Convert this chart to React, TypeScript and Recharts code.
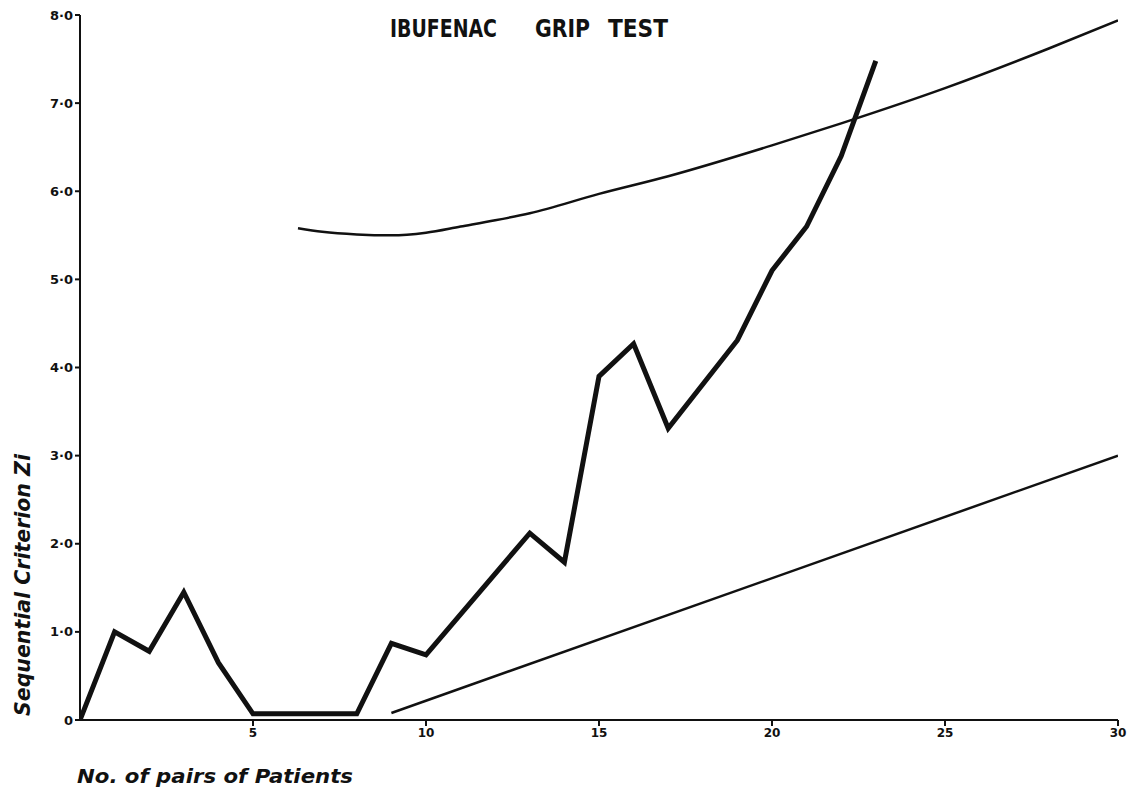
import React from 'react';
import { LineChart, Line, XAxis, YAxis } from 'recharts';

// observed sequential criterion Zi against number of pairs
const pairs = [0, 1, 2, 3, 4, 5, 8, 9, 10, 13, 14, 15, 16, 17, 19, 20, 21, 22, 23];
const zi = [0, 1.0, 0.78, 1.45, 0.65, 0.07, 0.07, 0.87, 0.74, 2.12, 1.79, 3.9, 4.27, 3.31, 4.31, 5.1, 5.6, 6.4, 7.48];

// upper boundary (curved)
const upperPairs = [6.3, 7, 8, 9, 10, 11, 12, 13, 15, 17, 20, 22, 25, 28, 30];
const upperZ = [5.58, 5.54, 5.51, 5.5, 5.53, 5.6, 5.67, 5.75, 5.97, 6.17, 6.52, 6.77, 7.17, 7.62, 7.94];

// lower boundary (straight)
const lowerPairs = [9, 30];
const lowerZ = [0.08, 3.0];

const xTicks = [5, 10, 15, 20, 25, 30];
const yTicks = [0, 1, 2, 3, 4, 5, 6, 7, 8];

const toRows = (xs: number[], ys: number[]) => xs.map((x, i) => ({ x, z: ys[i] }));

const fmtY = (v: number) => (v === 0 ? '0' : v.toFixed(1).replace('.', '·'));

const INK = '#111';
const FONT = '"DejaVu Sans", sans-serif';

export default function App() {
  const main = toRows(pairs, zi);
  const upper = toRows(upperPairs, upperZ);
  const lower = toRows(lowerPairs, lowerZ);

  return (
    <div style={{ position: 'absolute', left: 0, top: 0, width: 1137, height: 788, background: '#fff' }}>
      <LineChart width={1137} height={788} margin={{ top: 15, right: 19, bottom: 0, left: 0 }}>
        <XAxis
          dataKey="x"
          type="number"
          domain={[0, 30]}
          ticks={xTicks}
          height={68}
          stroke={INK}
          strokeWidth={2}
          tickSize={6}
          tick={{ fill: INK, fontSize: 12, fontWeight: 700, fontFamily: FONT }}
          allowDataOverflow
        />
        <YAxis
          type="number"
          domain={[0, 8]}
          ticks={yTicks}
          width={80}
          stroke={INK}
          strokeWidth={2}
          tickSize={5}
          tickFormatter={fmtY}
          tick={{ fill: INK, fontSize: 13, fontWeight: 700, fontFamily: FONT }}
          allowDataOverflow
        />
        <Line data={upper} dataKey="z" type="monotone" stroke={INK} strokeWidth={2.5} dot={false} isAnimationActive={false} />
        <Line data={lower} dataKey="z" type="linear" stroke={INK} strokeWidth={2.5} dot={false} isAnimationActive={false} />
        <Line data={main} dataKey="z" type="linear" stroke={INK} strokeWidth={5} dot={false} isAnimationActive={false} />
      </LineChart>
      <svg width={1137} height={788} style={{ position: 'absolute', left: 0, top: 0, pointerEvents: 'none' }}>
        <g fontFamily={FONT} fontWeight={700} fill={INK}>
          <text x={390} y={37} fontSize={25} textLength={107} lengthAdjust="spacingAndGlyphs">IBUFENAC</text>
          <text x={535} y={37} fontSize={25} textLength={55} lengthAdjust="spacingAndGlyphs">GRIP</text>
          <text x={608} y={37} fontSize={25} textLength={60} lengthAdjust="spacingAndGlyphs">TEST</text>
          <text
            x={77}
            y={783}
            fontSize={20}
            fontStyle="italic"
            textLength={276}
            lengthAdjust="spacingAndGlyphs"
          >
            No. of pairs of Patients
          </text>
          <text
            transform="translate(30,716) rotate(-90)"
            fontSize={21}
            fontStyle="italic"
            textLength={262}
            lengthAdjust="spacingAndGlyphs"
          >
            Sequential Criterion Zi
          </text>
        </g>
      </svg>
    </div>
  );
}
